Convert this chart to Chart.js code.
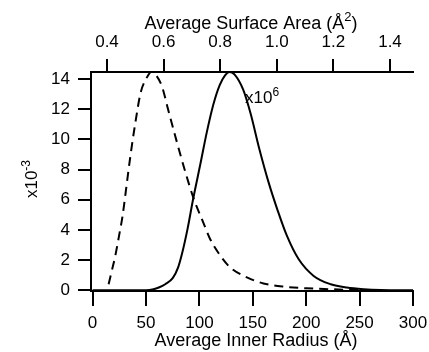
<!DOCTYPE html>
<html>
<head>
<meta charset="utf-8">
<script src="https://cdn.jsdelivr.net/npm/chart.js@4"></script>
<style>
  body { margin: 0; background: #fff; }
  canvas { display: block; }
</style>
</head>
<body>
<canvas id="sizeChart" width="429" height="352"></canvas>
<script>
// dashed curve: inner radius (Å) vs count (x10^-3)
const dashedRadius = [15, 18, 21, 25, 28, 31, 35, 40, 45, 50, 55, 60, 65, 71, 79, 87, 95, 103, 110, 120, 129, 145, 160, 180, 200, 222, 245, 262];
const dashedCount = [0.4, 1.3, 2.2, 3.7, 4.9, 6.5, 8.7, 11.1, 13.1, 14.0, 14.47, 14.2, 13.5, 11.9, 9.8, 7.8, 6.0, 4.6, 3.4, 2.25, 1.5, 0.84, 0.45, 0.23, 0.13, 0.07, 0.02, 0];

// solid curve
const solidRadius = [0, 50, 57, 62, 68, 75, 80, 84, 89, 94, 101, 107, 113, 119, 124, 128, 133, 141, 148, 156, 165, 173, 182, 193, 207, 223, 238, 254, 270, 300];
const solidCount = [0, 0, 0.06, 0.18, 0.4, 0.8, 1.5, 2.5, 4.1, 6.0, 8.4, 10.5, 12.3, 13.6, 14.25, 14.47, 14.3, 13.3, 11.7, 9.4, 7.1, 5.35, 3.6, 2.05, 0.95, 0.4, 0.18, 0.07, 0.02, 0];

// tick values
const radiusTicks = [0, 50, 100, 150, 200, 250, 300];
const areaTicks = [0.4, 0.6, 0.8, 1.0, 1.2, 1.4];
const countTicks = [0, 2, 4, 6, 8, 10, 12, 14];

const FONT = '"Liberation Sans", Arial, Helvetica, sans-serif';

function toPoints(xs, ys) {
  return xs.map((x, i) => { return { x: x, y: ys[i] }; });
}

function fixedTicks(values) {
  return function (scale) {
    scale.ticks = values.map((v) => { return { value: v }; });
  };
}

// pin the scale box size and drop the label overhang padding
function fixedSize(prop, size) {
  return function (scale) {
    scale[prop] = size;
    scale.paddingLeft = 0;
    scale.paddingRight = 0;
    scale.paddingTop = 0;
    scale.paddingBottom = 0;
  };
}

// text with raised pieces, e.g. x10^-3; pieces = [[text, isSup], ...]
function drawSupText(ctx, pieces, x, baseline, size, align) {
  const supSize = Math.round(size * 0.72);
  const rise = Math.round(size * 0.42);
  let total = 0;
  const widths = pieces.map((p) => {
    ctx.font = (p[1] ? supSize : size) + 'px ' + FONT;
    const w = ctx.measureText(p[0]).width;
    total += w;
    return w;
  });
  let cur = align === 'left' ? x : x - total / 2;
  ctx.textAlign = 'left';
  ctx.textBaseline = 'alphabetic';
  pieces.forEach((p, i) => {
    ctx.font = (p[1] ? supSize : size) + 'px ' + FONT;
    ctx.fillText(p[0], cur, p[1] ? baseline - rise : baseline);
    cur += widths[i];
  });
}

const titlesPlugin = {
  id: 'axisTitles',
  afterDraw: function (chart) {
    const ctx = chart.ctx;
    ctx.save();
    ctx.fillStyle = '#000';
    drawSupText(ctx, [['Average Surface Area (Å', false], ['2', true], [')', false]], 251, 29, 18);
    drawSupText(ctx, [['Average Inner Radius (Å)', false]], 256, 346, 18);
    drawSupText(ctx, [['x10', false], ['6', true]], 245, 103, 17, 'left');
    ctx.translate(37, 179);
    ctx.rotate(-Math.PI / 2);
    drawSupText(ctx, [['x10', false], ['-3', true]], 0, 0, 17);
    ctx.restore();
  }
};

Chart.defaults.font.family = FONT;
Chart.defaults.font.size = 17;
Chart.defaults.color = '#000';

function axisLine(tickLength) {
  return {
    grid: { drawOnChartArea: false, drawTicks: true, tickLength: tickLength, color: '#000', lineWidth: 2 },
    border: { display: true, color: '#000', width: 2 }
  };
}

var ctx = document.getElementById('sizeChart').getContext('2d');
var chart = new Chart(ctx, {
  type: 'line',
  data: {
    datasets: [{
      label: 'dashed',
      data: toPoints(dashedRadius, dashedCount),
      borderColor: '#000',
      borderWidth: 2,
      borderDash: [9, 6],
      pointRadius: 0,
      fill: false,
      cubicInterpolationMode: 'monotone',
      xAxisID: 'x',
      yAxisID: 'y'
    }, {
      label: 'solid',
      data: toPoints(solidRadius, solidCount),
      borderColor: '#000',
      borderWidth: 2,
      pointRadius: 0,
      fill: false,
      cubicInterpolationMode: 'monotone',
      xAxisID: 'x',
      yAxisID: 'y'
    }]
  },
  options: {
    responsive: false,
    animation: false,
    events: [],
    layout: { padding: { left: 0, right: 16, top: 0, bottom: 0 } },
    plugins: { legend: { display: false }, tooltip: { enabled: false } },
    scales: {
      x: Object.assign({
        type: 'linear',
        position: 'bottom',
        min: -1.5,
        max: 300,
        ticks: { padding: 7, maxRotation: 0 },
        afterBuildTicks: fixedTicks(radiusTicks),
        afterFit: fixedSize('height', 61)
      }, axisLine(15)),
      x2: Object.assign({
        type: 'linear',
        position: 'top',
        min: 0.3435,
        max: 1.4813,
        ticks: { padding: 6, maxRotation: 0, callback: (v) => v.toFixed(1) },
        afterBuildTicks: fixedTicks(areaTicks),
        afterFit: fixedSize('height', 72)
      }, axisLine(13)),
      y: Object.assign({
        type: 'linear',
        position: 'left',
        min: -0.05,
        max: 14.47,
        ticks: { padding: 8 },
        afterBuildTicks: fixedTicks(countTicks),
        afterFit: fixedSize('width', 91)
      }, axisLine(13))
    }
  },
  plugins: [titlesPlugin]
});
</script>
</body>
</html>
